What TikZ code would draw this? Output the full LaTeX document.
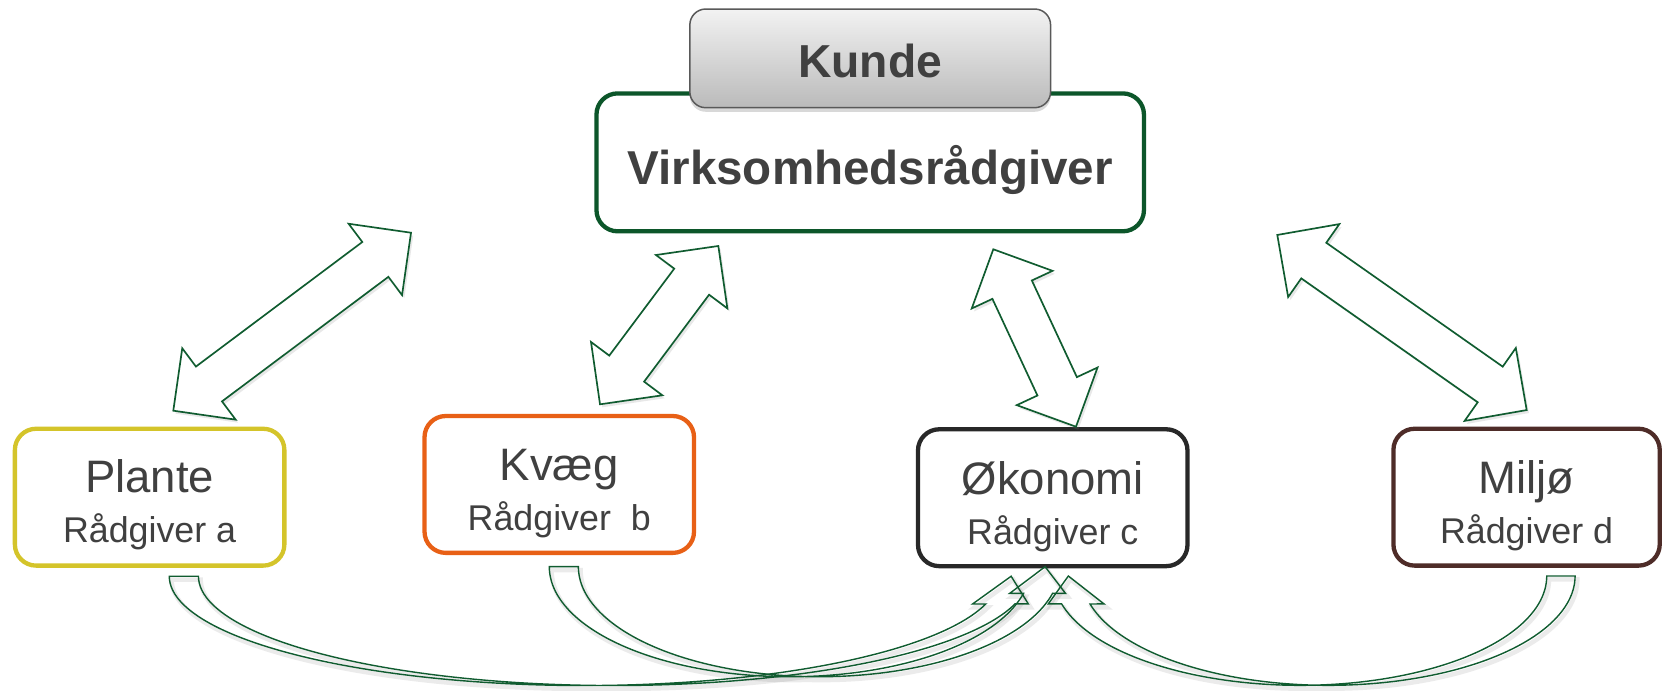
\documentclass[tikz,border=0pt]{standalone}
\usepackage{fontspec}
\setmainfont{Liberation Sans}
\usetikzlibrary{calc,shadows}
\definecolor{agreen}{RGB}{16,92,48}
\definecolor{vgreen}{RGB}{12,86,42}
\definecolor{plantec}{RGB}{212,196,42}
\definecolor{kvaegc}{RGB}{232,96,22}
\definecolor{okoc}{RGB}{40,40,40}
\definecolor{miljoc}{RGB}{78,44,40}
\definecolor{txtc}{RGB}{64,64,64}
\def\ahl{0.84cm}
\def\ahw{0.84cm}
\def\asw{0.41cm}
\newcommand\dblarr[2]{%
 \draw[barrow] (#1) -- ($(#1)!\ahl!(#2)!\ahw!90:(#2)$) -- ($(#1)!\ahl!(#2)!\asw!90:(#2)$)
  -- ($(#2)!\ahl!(#1)!\asw!-90:(#1)$) -- ($(#2)!\ahl!(#1)!\ahw!-90:(#1)$) -- (#2)
  -- ($(#2)!\ahl!(#1)!\ahw!90:(#1)$) -- ($(#2)!\ahl!(#1)!\asw!90:(#1)$)
  -- ($(#1)!\ahl!(#2)!\asw!-90:(#2)$) -- ($(#1)!\ahl!(#2)!\ahw!-90:(#2)$) -- cycle;}
\tikzset{
 box/.style={draw, line width=2.3pt, rounded corners=0.4cm, fill=white, inner sep=0,
   minimum width=5.08cm, minimum height=2.58cm},
 ttl/.style={text=txtc, font=\fontsize{24.4}{30}\selectfont, inner sep=0, anchor=base},
 sub/.style={text=txtc, font=\fontsize{19.2}{24}\selectfont, inner sep=0, anchor=base},
 barrow/.style={draw=agreen, line width=0.9pt, fill=white, line join=miter,
   drop shadow={opacity=0.18, shadow xshift=1.2pt, shadow yshift=-1.6pt}},
 carrow/.style={draw=agreen, line width=0.75pt, line join=miter,
   preaction={draw=black, opacity=0.08, line width=2.4pt, transform canvas={shift={(1.2pt,-1.8pt)}}}},
}
\begin{document}
\begin{tikzpicture}[x=0.02cm,y=-0.02cm]
\fill[white] (0,0) rectangle (1568,651);
\useasboundingbox (0,0) rectangle (1568,651);

% main boxes
\node[box, draw=vgreen, minimum width=10.32cm, minimum height=2.6cm] (virk) at (820,153) {};
\node[draw=black!65, line width=0.8pt, rounded corners=0.3cm, top color=black!5, bottom color=black!27,
  minimum width=6.8cm, minimum height=1.86cm, inner sep=0,
  drop shadow={opacity=0.3, shadow xshift=0pt, shadow yshift=-2.2pt}] (kunde) at (820,55) {};
\node[text=txtc, font=\fontsize{24.8}{30}\selectfont\bfseries, inner sep=0, anchor=base] (kundet) at ($(kunde.center)+(0,18)$) {Kunde};
\node[text=txtc, font=\fontsize{25.5}{30}\selectfont\bfseries, inner sep=0, anchor=base] (virkt) at ($(virk.center)+(0,21)$) {Virksomhedsrådgiver};

\node[box, draw=plantec] (plante) at (141,468.5) {};
\node[box, draw=kvaegc] (kvaeg) at (527,456.5) {};
\node[box, draw=okoc] (oko) at (992,469) {};
\node[box, draw=miljoc, minimum width=5.02cm] (miljo) at (1438.5,468.5) {};

\node[ttl] (plantet) at ($(plante.center)+(0,-4)$) {Plante};
\node[sub] (plantes) at ($(plante.center)+(0,43)$) {Rådgiver a};
\node[ttl] (kvaegt) at ($(kvaeg.center)+(0,-4)$) {Kvæg};
\node[sub] (kvaegs) at ($(kvaeg.center)+(0,43.5)$) {Rådgiver\ \ b};
\node[ttl] (okot) at ($(oko.center)+(0,-3)$) {Økonomi};
\node[sub] (okos) at ($(oko.center)+(0,44)$) {Rådgiver c};
\node[ttl] (miljot) at ($(miljo.center)+(0,-3)$) {Miljø};
\node[sub] (miljos) at ($(miljo.center)+(0,44)$) {Rådgiver d};

% double block arrows
\coordinate (a1u) at (387.3,219.3); \coordinate (a1l) at (163.3,387);
\coordinate (a2u) at (676.9,231.8); \coordinate (a2l) at (565.4,381);
\coordinate (a3u) at (936,234.9);   \coordinate (a3l) at (1013.9,402.1);
\coordinate (a4u) at (1203.6,221.4); \coordinate (a4l) at (1438.6,386.4);
\dblarr{a1u}{a1l}
\dblarr{a2u}{a2l}
\dblarr{a3u}{a3l}
\dblarr{a4u}{a4l}

% curved arrows to Oekonomi
\draw[carrow] plot[domain=180:14.7, samples=90, smooth] ({550.6+391.1*cos(\x)},{543+103*sin(\x)})
  -- (916.5,569.1) -- (952.8,543) -- (969,569.1) -- (956.4,569.1)
  -- plot[domain=14.7:180, samples=90, smooth] ({578.1+391.1*cos(\x)},{543+103*sin(\x)}) -- cycle;
\draw[carrow] plot[domain=180:14, samples=90, smooth] ({744.4+226.8*cos(\x)},{534+103.7*sin(\x)})
  -- (951.5,559.1) -- (984.8,534) -- (1004,559.1) -- (991.9,559.1)
  -- plot[domain=14:180, samples=90, smooth] ({771.8+226.8*cos(\x)},{534+103.7*sin(\x)}) -- cycle;
\draw[carrow] plot[domain=0:165.2, samples=90, smooth] ({1251.8+232.4*cos(\x)},{542.8+103*sin(\x)})
  -- (1040.3,569.1) -- (1006.7,542.8) -- (987.8,569.1) -- (1000.4,569.1)
  -- plot[domain=165.2:0, samples=90, smooth] ({1225.1+232.4*cos(\x)},{542.8+103*sin(\x)}) -- cycle;
\end{tikzpicture}
\end{document}
